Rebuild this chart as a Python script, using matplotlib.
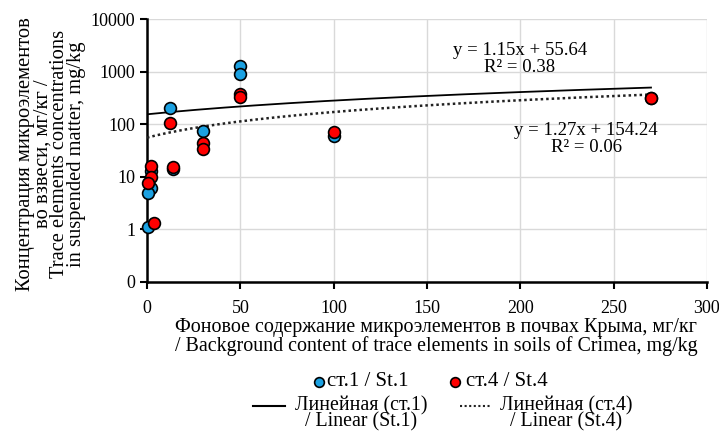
import numpy as np
import matplotlib
matplotlib.use("Agg")
import matplotlib.pyplot as plt
from matplotlib.lines import Line2D
from matplotlib.ticker import NullLocator, FixedLocator, FixedFormatter

plt.rcParams['font.family'] = ['Liberation Serif', 'DejaVu Serif']

# ---- data ----
st1_x = [50, 50, 12.5, 30, 100, 14, 2.3, 2.3, 0.5, 0.7, 270]
st1_y = [1300, 900, 205, 75, 59, 14, 13, 6.2, 4.9, 1.1, 310]
st4_x = [50, 50, 12.5, 30, 30, 100, 14, 2.3, 2.0, 0.5, 3.9, 270]
st4_y = [370, 330, 104, 44, 34, 71, 15.5, 16, 10, 7.6, 1.3, 318]

# trend lines (coefficients shown on the chart)
fit1_slope, fit1_icpt = 1.27, 154.24   # Linear (st.1)
fit4_slope, fit4_icpt = 1.15, 55.64    # Linear (st.4)
fit_xmin, fit_xmax = 0, 270

x_ticks = [0, 50, 100, 150, 200, 250, 300]
y_ticks = [0, 1, 10, 100, 1000, 10000]
y_tick_labels = ['0', '1', '10', '100', '1000', '10000']

eq1_text = "y = 1.15x + 55.64\nR² = 0.38"
eq2_text = "y = 1.27x + 154.24\nR² = 0.06"

xlabel_text = ("Фоновое содержание микроэлементов в почвах Крыма, мг/кг\n"
               "/ Background content of trace elements in soils of Crimea, mg/kg")
ylabel_text = ("Концентрация микроэлементов\nво взвеси, мг/кг /\n"
               "Trace elements concentrations\nin suspended matter, mg/kg")

blue = '#1ba1e2'
red = '#ff0000'

W, H = 719, 434
fig = plt.figure(figsize=(W / 100, H / 100), dpi=100)
ax = fig.add_axes([147 / W, 1 - 282 / H, 560 / W, 263 / H])

ax.set_yscale('symlog', linthresh=1, linscale=0.9)
ax.set_xlim(0, 300)
ax.set_ylim(0, 10000)
ax.xaxis.set_major_locator(FixedLocator(x_ticks))
ax.yaxis.set_major_locator(FixedLocator(y_ticks))
ax.yaxis.set_major_formatter(FixedFormatter(y_tick_labels))
ax.yaxis.set_minor_locator(NullLocator())
ax.xaxis.set_minor_locator(NullLocator())

ax.grid(True, color='#d9d9d9', lw=1)
ax.set_axisbelow(True)
for s in ['top', 'right']:
    ax.spines[s].set_visible(False)
for s in ['left', 'bottom']:
    ax.spines[s].set_linewidth(1.8)
    ax.spines[s].set_color('black')
ax.tick_params(axis='both', which='major', length=5, width=1.5,
               labelsize=13, direction='out', color='black')
ax.tick_params(axis='x', pad=8)

# trend lines
xf = np.linspace(fit_xmin, fit_xmax, 300)
ax.plot(xf, fit1_slope * xf + fit1_icpt, color='black', lw=1.3, zorder=3)
ax.plot(xf, fit4_slope * xf + fit4_icpt, color='#222222', lw=1.8,
        linestyle=(0, (1, 1.2)), zorder=3)

# points
ax.plot(st1_x, st1_y, 'o', ms=8.5, mfc=blue, mec='black', mew=1.2,
        zorder=4, clip_on=False)
ax.plot(st4_x, st4_y, 'o', ms=8.5, mfc=red, mec='black', mew=1.2,
        zorder=5, clip_on=False)

ax.text(0.666, 0.848, eq1_text, transform=ax.transAxes, ha='center',
        va='center', fontsize=13.5, linespacing=1.0)
ax.text(0.784, 0.544, eq2_text, transform=ax.transAxes, ha='center',
        va='center', fontsize=13.5, linespacing=1.0)

# axis labels
fig.text(436 / W, 1 - 337 / H, xlabel_text, ha='center', va='center',
         fontsize=14.4, linespacing=0.9)
fig.text(51 / W, 1 - 154 / H, ylabel_text, ha='center', va='center',
         rotation=90, fontsize=14.8, linespacing=0.85)

# legend (manual)
def fx(px):
    return px / W

def fy(py):
    return 1 - py / H

fig.add_artist(Line2D([fx(319)], [fy(382)], marker='o', ms=7, mfc=blue,
                      mec='black', mew=1.2, transform=fig.transFigure))
fig.text(fx(327), fy(382), "ст.1 / St.1", ha='left', va='center', fontsize=15)
fig.add_artist(Line2D([fx(455)], [fy(382)], marker='o', ms=7, mfc=red,
                      mec='black', mew=1.2, transform=fig.transFigure))
fig.text(fx(466), fy(382), "ст.4 / St.4", ha='left', va='center', fontsize=15)

fig.add_artist(Line2D([fx(253), fx(285)], [fy(406), fy(406)], color='black',
                      lw=1.5, transform=fig.transFigure))
fig.text(fx(361), fy(414), "Линейная (ст.1)\n/ Linear (St.1)", ha='center',
         va='center', fontsize=14.3, linespacing=0.82)
fig.add_artist(Line2D([fx(460), fx(490)], [fy(406), fy(406)], color='#222222',
                      lw=1.5, linestyle=(0, (1, 1.2)), transform=fig.transFigure))
fig.text(fx(566), fy(414), "Линейная (ст.4)\n/ Linear (St.4)", ha='center',
         va='center', fontsize=14.3, linespacing=0.82)

fig.savefig('out.png', dpi=100)
